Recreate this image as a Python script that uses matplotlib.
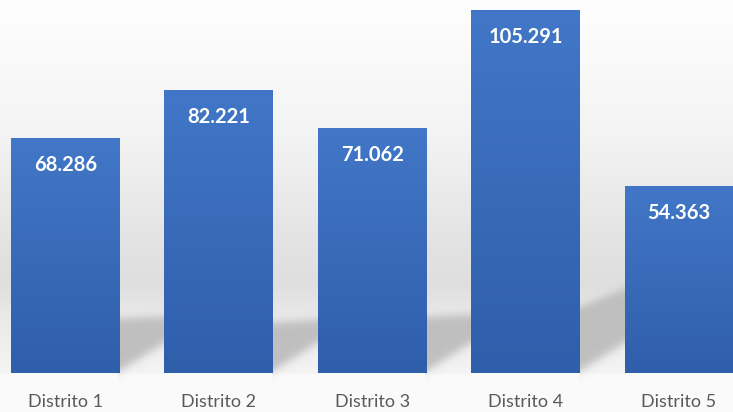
#!/usr/bin/env python3
"""Bar chart of population per district with a soft floor shadow"""

import numpy as np
import matplotlib
matplotlib.use('Agg')
import matplotlib.pyplot as plt
from matplotlib.colors import LinearSegmentedColormap

DISTRICTS = ['Distrito 1', 'Distrito 2', 'Distrito 3', 'Distrito 4', 'Distrito 5']
VALUES = [68286, 82221, 71062, 105291, 54363]

WIDTH_PX, HEIGHT_PX = 733, 412
DPI = 100
BAR_WIDTH = 0.71

BAR_TOP = '#4277c7'
BAR_BOTTOM = '#2f5eab'
TICK_COLOR = '#595959'


def fmt_thousands(value: int) -> str:
    """format with a dot as thousands separator (es)"""
    return f'{value:,}'.replace(',', '.')


def sigmoid(v):
    return 1.0 / (1.0 + np.exp(-v))


def background(gaps):
    """vertical grey gradient plus a shadow patch in every gap between bars

    gaps: list of (x_left, x_right, y_top_left, y_top_right) in image pixels
    """
    ys = np.arange(HEIGHT_PX)[:, None].astype(float)
    xs = np.arange(WIDTH_PX)[None, :].astype(float)

    stops_y = [0, 130, 250, 285, 310, 372, 374, 412]
    stops_v = [254, 244, 226, 223, 232, 244, 250, 251]
    grey = np.interp(ys, stops_y, stops_v) + 0 * xs

    shade = np.zeros_like(grey)
    for x_l, x_r, top_l, top_r in gaps:
        inside = (xs >= x_l - 2) & (xs <= x_r + 2)
        t = np.clip((xs - x_l) / (x_r - x_l), 0, 1)
        top = top_l + (top_r - top_l) * t
        bottom = 370 - 28 * t
        alpha = sigmoid((ys - top) / 2.5) * sigmoid((bottom - ys) / 3.0)
        shade = np.maximum(shade, np.where(inside, alpha, 0))

    grey = grey * (1 - shade) + 191 * shade
    img = np.repeat(grey[:, :, None], 3, axis=2) / 255.0
    return img


def main():
    fig = plt.figure(figsize=(WIDTH_PX / DPI, HEIGHT_PX / DPI), dpi=DPI)
    bg_ax = fig.add_axes([0, 0, 1, 1], zorder=0)
    ax = fig.add_axes([0, 39 / HEIGHT_PX, 1, 373 / HEIGHT_PX], zorder=1)
    ax.patch.set_alpha(0)

    x = np.arange(len(DISTRICTS))
    ax.set_xlim(-0.427, len(DISTRICTS) - 1 + 0.352)
    ax.set_ylim(0, 108180)

    bars = ax.bar(x, VALUES, width=BAR_WIDTH, color=BAR_TOP, zorder=2)

    # vertical gradient inside every bar
    cmap = LinearSegmentedColormap.from_list('bar', [BAR_BOTTOM, BAR_TOP])
    grad = np.linspace(0, 1, 256)[:, None]
    for bar, value in zip(bars, VALUES):
        x0, w, h = bar.get_x(), bar.get_width(), bar.get_height()
        im = ax.imshow(grad, cmap=cmap, origin='lower', aspect='auto',
                       extent=(x0, x0 + w, 0, h), zorder=3)
        im.set_clip_path(bar)
        ax.annotate(fmt_thousands(value),
                    xy=(x0 + w / 2, h), xytext=(0, -19.5), textcoords='offset points',
                    ha='center', va='center', color='white', fontsize=14.5,
                    fontweight='bold', family=['Lato', 'DejaVu Sans'], zorder=4)

    ax.set_xlim(-0.427, len(DISTRICTS) - 1 + 0.352)
    ax.set_ylim(0, 108180)

    ax.set_xticks(x)
    ax.set_xticklabels(DISTRICTS, color=TICK_COLOR, fontsize=13,
                       family=['Lato', 'DejaVu Sans'])
    ax.tick_params(axis='x', length=0, pad=15)
    ax.set_yticks([])
    for spine in ax.spines.values():
        spine.set_visible(False)

    # gaps between bars in image pixels (origin top-left)
    fig.canvas.draw()
    shadow_tops = [(318, 316), (322, 319), (316, 314), (306, 288)]
    gaps = []
    for i in range(len(bars) - 1):
        right_edge = bars[i].get_x() + bars[i].get_width()
        left_edge = bars[i + 1].get_x()
        x_l = ax.transData.transform((right_edge, 0))[0]
        x_r = ax.transData.transform((left_edge, 0))[0]
        gaps.append((x_l, x_r) + shadow_tops[i])

    bg_ax.imshow(background(gaps), extent=(0, WIDTH_PX, HEIGHT_PX, 0),
                 aspect='auto', interpolation='bilinear')
    bg_ax.set_xlim(0, WIDTH_PX)
    bg_ax.set_ylim(HEIGHT_PX, 0)
    bg_ax.axis('off')

    fig.savefig('out.png', dpi=DPI)


if __name__ == '__main__':
    main()
